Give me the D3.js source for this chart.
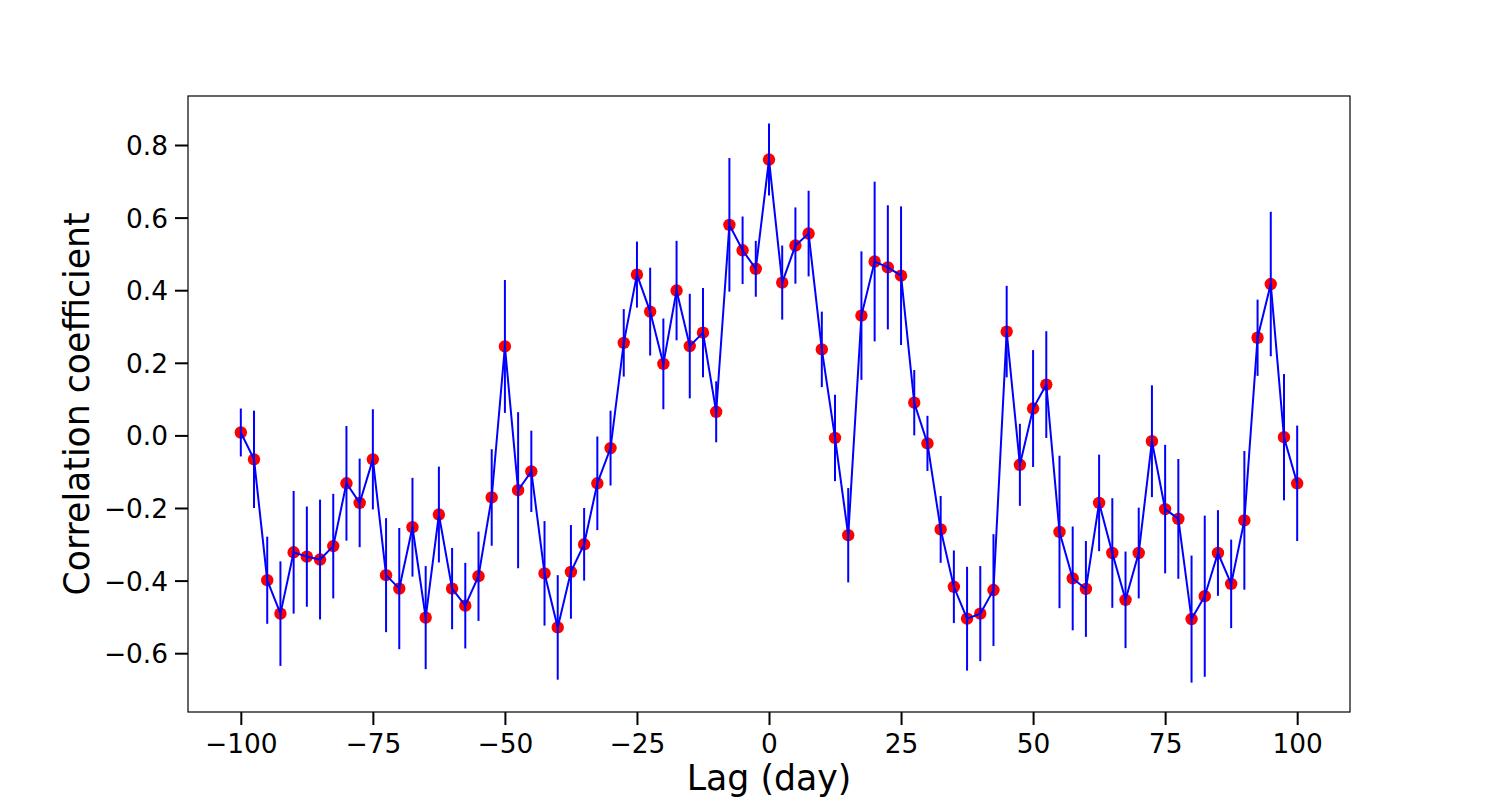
<!DOCTYPE html>
<html>
<head>
<meta charset="utf-8">
<script src="https://cdn.jsdelivr.net/npm/d3@7"></script>
<style>
  body { margin: 0; background: #fff; }
  svg { display: block; }
  text { font-family: "DejaVu Sans", sans-serif; fill: #000; }
</style>
</head>
<body>
<svg id="chart" width="1500" height="800"></svg>
<script>
// lag in days
const lags = [
  -100, -97.5, -95, -92.5, -90, -87.5, -85, -82.5, -80, -77.5,
  -75, -72.5, -70, -67.5, -65, -62.5, -60, -57.5, -55, -52.5,
  -50, -47.5, -45, -42.5, -40, -37.5, -35, -32.5, -30, -27.5,
  -25, -22.5, -20, -17.5, -15, -12.5, -10, -7.5, -5, -2.5,
  0, 2.5, 5, 7.5, 10, 12.5, 15, 17.5, 20, 22.5,
  25, 27.5, 30, 32.5, 35, 37.5, 40, 42.5, 45, 47.5,
  50, 52.5, 55, 57.5, 60, 62.5, 65, 67.5, 70, 72.5,
  75, 77.5, 80, 82.5, 85, 87.5, 90, 92.5, 95, 97.5, 100
]

const coeff = [
  0.008, -0.066, -0.399, -0.491, -0.322, -0.334, -0.342, -0.305, -0.132, -0.186,
  -0.066, -0.385, -0.422, -0.253, -0.502, -0.218, -0.422, -0.469, -0.388, -0.171,
  0.245, -0.151, -0.099, -0.380, -0.529, -0.376, -0.300, -0.132, -0.035, 0.255,
  0.443, 0.341, 0.197, 0.399, 0.246, 0.283, 0.065, 0.580, 0.510, 0.459,
  0.760, 0.421, 0.523, 0.556, 0.237, -0.007, -0.275, 0.330, 0.479, 0.463,
  0.440, 0.090, -0.022, -0.259, -0.417, -0.505, -0.491, -0.426, 0.286, -0.081,
  0.074, 0.140, -0.266, -0.394, -0.423, -0.186, -0.324, -0.453, -0.324, -0.016,
  -0.203, -0.230, -0.506, -0.443, -0.324, -0.409, -0.234, 0.269, 0.417, -0.005, -0.132
]

const coeffErr = [
  0.066, 0.134, 0.120, 0.144, 0.169, 0.138, 0.165, 0.144, 0.158, 0.122,
  0.138, 0.157, 0.167, 0.136, 0.142, 0.132, 0.112, 0.118, 0.123, 0.133,
  0.183, 0.215, 0.112, 0.144, 0.144, 0.129, 0.100, 0.129, 0.103, 0.093,
  0.091, 0.121, 0.125, 0.137, 0.144, 0.123, 0.084, 0.184, 0.093, 0.077,
  0.099, 0.102, 0.105, 0.118, 0.104, 0.119, 0.130, 0.177, 0.220, 0.171,
  0.191, 0.090, 0.076, 0.092, 0.100, 0.143, 0.131, 0.154, 0.126, 0.113,
  0.161, 0.147, 0.210, 0.143, 0.132, 0.133, 0.151, 0.133, 0.125, 0.154,
  0.177, 0.165, 0.175, 0.222, 0.118, 0.122, 0.191, 0.105, 0.199, 0.174, 0.159
]

const xTicks = [-100, -75, -50, -25, 0, 25, 50, 75, 100]
const yTicks = [-0.6, -0.4, -0.2, 0.0, 0.2, 0.4, 0.6, 0.8]

const points = lags.map((lag, i) => ({lag: lag, r: coeff[i], err: coeffErr[i]}))

const box = {left: 188, right: 1350, top: 96, bottom: 712}
const svg = d3.select("#chart")

const x = d3.scaleLinear().domain([-110, 110]).range([box.left, box.right])
const y = d3.scaleLinear().domain([-0.762, 0.935]).range([box.bottom, box.top])

// axes
const xAxis = svg.append("g")
    .attr("transform", `translate(0,${box.bottom})`)
    .call(d3.axisBottom(x).tickValues(xTicks).tickFormat(d3.format("d")).tickSize(13).tickPadding(8))
const yAxis = svg.append("g")
    .attr("transform", `translate(${box.left},0)`)
    .call(d3.axisLeft(y).tickValues(yTicks).tickFormat(d3.format(".1f")).tickSize(13).tickPadding(7))

for (const g of [xAxis, yAxis]) {
    g.select(".domain").remove()
    g.selectAll(".tick line").attr("stroke", "#000").attr("stroke-width", 2)
    g.selectAll(".tick text")
        .style("font-family", "'DejaVu Sans', sans-serif")
        .style("font-size", "26.4px")
        .attr("fill", "#000")
}
xAxis.selectAll(".tick text").attr("dy", null).attr("y", 0)
    .attr("transform", "translate(0,41)")
yAxis.selectAll(".tick text").attr("dy", "0.36em")

// frame
svg.append("rect")
    .attr("x", box.left).attr("y", box.top)
    .attr("width", box.right - box.left).attr("height", box.bottom - box.top)
    .attr("fill", "none").attr("stroke", "#000").attr("stroke-width", 1.2)

const plot = svg.append("g")

// markers underneath the line, as in the original
plot.selectAll("circle")
    .data(points)
    .enter().append("circle")
    .attr("cx", d => x(d.lag))
    .attr("cy", d => y(d.r))
    .attr("r", 6.2)
    .attr("fill", "#ff0000")

plot.selectAll("line.err")
    .data(points)
    .enter().append("line")
    .attr("class", "err")
    .attr("x1", d => x(d.lag)).attr("x2", d => x(d.lag))
    .attr("y1", d => y(d.r - d.err)).attr("y2", d => y(d.r + d.err))
    .attr("stroke", "#0000ff").attr("stroke-width", 2)

plot.append("path")
    .datum(points)
    .attr("d", d3.line().x(d => x(d.lag)).y(d => y(d.r)))
    .attr("fill", "none")
    .attr("stroke", "#0000ff")
    .attr("stroke-width", 2)

// axis labels
svg.append("text")
    .attr("x", (box.left + box.right) / 2)
    .attr("y", 790)
    .attr("text-anchor", "middle")
    .style("font-size", "34.7px")
    .text("Lag (day)")

svg.append("text")
    .attr("transform", `translate(89,${(box.top + box.bottom) / 2}) rotate(-90)`)
    .attr("text-anchor", "middle")
    .style("font-size", "34.7px")
    .text("Correlation coefficient")
</script>
</body>
</html>
